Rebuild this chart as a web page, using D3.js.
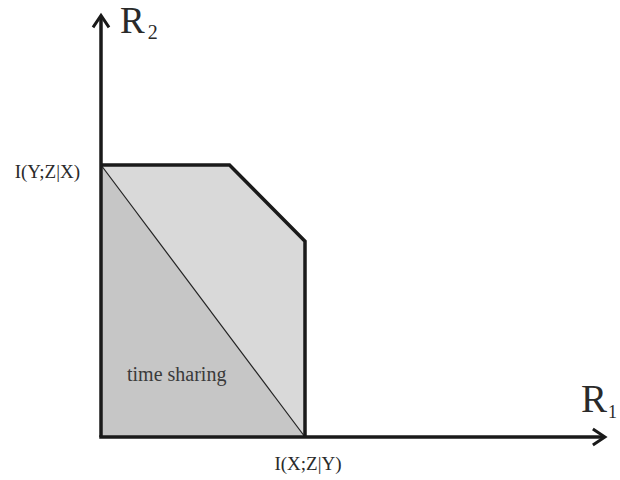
<!DOCTYPE html>
<html>
<head>
<meta charset="utf-8">
<script src="https://cdn.jsdelivr.net/npm/d3@7"></script>
<style>
body { margin: 0; background: #fff; }
text { font-family: "Liberation Serif", "DejaVu Serif", serif; fill: #2a2a2a; }
</style>
</head>
<body>
<script>
// rates in units of I(X;Z|Y) (R1) and I(Y;Z|X) (R2)
let regionR1 = [0, 0, 0.63, 1, 1]
let regionR2 = [0, 1, 1, 0.72, 0]
let shareR1 = [0, 1, 0]
let shareR2 = [1, 0, 0]
let axisMax = [2.47, 1.55]
let tickLabels = ["I(X;Z|Y)", "I(Y;Z|X)"]

let width = 620, height = 480

let svg = d3.select("body").append("svg")
    .attr("width", width)
    .attr("height", height)

let x = d3.scaleLinear().domain([0, 1]).range([101, 305])
let y = d3.scaleLinear().domain([0, 1]).range([437, 165])

let line = d3.line().x(d => x(d[0])).y(d => y(d[1]))

let region = d3.zip(regionR1, regionR2)
let share = d3.zip(shareR1, shareR2)

svg.append("path")
    .attr("d", line(region) + "Z")
    .attr("fill", "#d9d9d9")

svg.append("path")
    .attr("d", line(share) + "Z")
    .attr("fill", "#c6c6c6")

svg.append("line")
    .attr("x1", x(0)).attr("y1", y(1))
    .attr("x2", x(1)).attr("y2", y(0))
    .attr("stroke", "#222").attr("stroke-width", 1.2)

// region boundary (upper part)
svg.append("path")
    .attr("d", line(region.slice(1)))
    .attr("fill", "none")
    .attr("stroke", "#1a1a1a")
    .attr("stroke-width", 3.5)
    .attr("stroke-linejoin", "miter")

// axes
let ax = svg.append("g").attr("stroke", "#1a1a1a").attr("fill", "none")
ax.append("line")
    .attr("x1", x(0)).attr("y1", y(0))
    .attr("x2", x(0)).attr("y2", y(axisMax[1]) + 1)
    .attr("stroke-width", 3.5)
ax.append("line")
    .attr("x1", x(0) - 1.75).attr("y1", y(0))
    .attr("x2", x(axisMax[0]) - 1).attr("y2", y(0))
    .attr("stroke-width", 3.5)
ax.append("path")
    .attr("d", `M${x(0) - 8},${y(axisMax[1]) + 12}L${x(0)},${y(axisMax[1])}L${x(0) + 8},${y(axisMax[1]) + 12}`)
    .attr("stroke-width", 3)
ax.append("path")
    .attr("d", `M${x(axisMax[0]) - 12},${y(0) - 8}L${x(axisMax[0])},${y(0)}L${x(axisMax[0]) - 12},${y(0) + 8}`)
    .attr("stroke-width", 3)

// axis names
let r2 = svg.append("text")
    .attr("x", x(0) + 19).attr("y", y(axisMax[1]) + 18)
    .style("font-size", "37px")
r2.append("tspan").text("R")
r2.append("tspan").attr("dy", 6).attr("dx", 3).style("font-size", "20px").text("2")

let r1 = svg.append("text")
    .attr("x", x(axisMax[0]) - 24).attr("y", y(0) - 25)
    .style("font-size", "39px")
r1.append("tspan").text("R")
r1.append("tspan").attr("dy", 6).attr("dx", 1).style("font-size", "18px").text("1")

// tick labels
svg.append("text")
    .attr("x", x(1) + 3).attr("y", y(0) + 33)
    .attr("text-anchor", "middle")
    .style("font-size", "19px")
    .text(tickLabels[0])

svg.append("text")
    .attr("x", x(0) - 21).attr("y", y(1) + 13)
    .attr("text-anchor", "end")
    .style("font-size", "19px")
    .text(tickLabels[1])

svg.append("text")
    .attr("x", 127).attr("y", 381)
    .style("font-size", "20px")
    .style("fill", "#3a3a3a")
    .text("time sharing")
</script>
</body>
</html>
